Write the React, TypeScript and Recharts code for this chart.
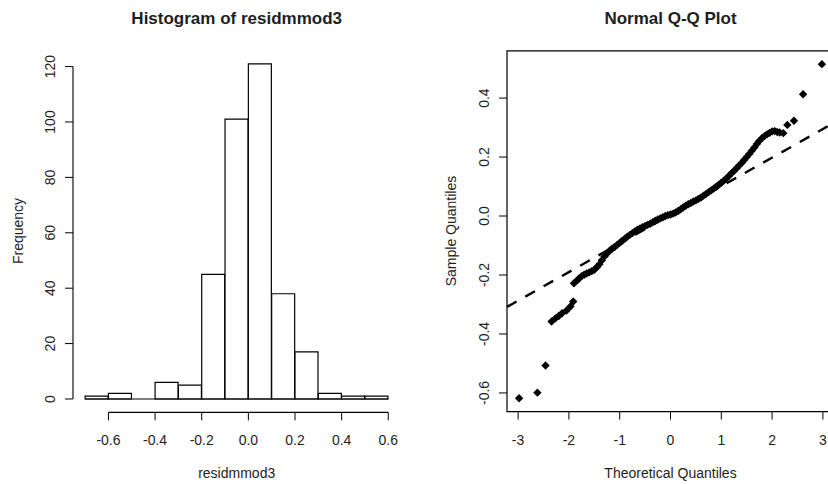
import React from 'react';
import {
  ComposedChart,
  Bar,
  Scatter,
  XAxis,
  YAxis,
  ReferenceLine,
  ReferenceArea,
} from 'recharts';

// ---- histogram data ----
const HIST_EDGES = [-0.7, -0.6, -0.5, -0.4, -0.3, -0.2, -0.1, 0.0, 0.1, 0.2, 0.3, 0.4, 0.5, 0.6];
const HIST_COUNTS = [1, 2, 0, 6, 5, 45, 101, 121, 38, 17, 2, 1, 1];
const HIST_X_TICKS = [-0.6, -0.4, -0.2, 0.0, 0.2, 0.4, 0.6];
const HIST_X_LABELS = ['-0.6', '-0.4', '-0.2', '0.0', '0.2', '0.4', '0.6'];
const HIST_Y_TICKS = [0, 20, 40, 60, 80, 100, 120];

// ---- normal Q-Q data ----
const QQ_THEORETICAL = [
  -2.98, -2.62, -2.46, -2.34, -2.265, -2.2, -2.135, -2.05, -1.97, -1.915,
  -1.9, -1.85, -1.8, -1.75, -1.7, -1.65, -1.6, -1.55, -1.5, -1.45,
  -1.4, -1.35, -1.3, -1.25, -1.2, -1.15, -1.1, -1.05, -1.0, -0.95,
  -0.9, -0.85, -0.8, -0.75, -0.7, -0.65, -0.6, -0.55, -0.5, -0.45,
  -0.4, -0.35, -0.3, -0.25, -0.2, -0.15, -0.1, -0.05, 0.0, 0.05,
  0.1, 0.15, 0.2, 0.25, 0.3, 0.35, 0.4, 0.45, 0.5, 0.55,
  0.6, 0.65, 0.7, 0.75, 0.8, 0.85, 0.9, 0.95, 1.0, 1.05,
  1.1, 1.15, 1.2, 1.25, 1.3, 1.35, 1.4, 1.45, 1.5, 1.55,
  1.6, 1.65, 1.7, 1.75, 1.8, 1.85, 1.9, 1.95, 2.0, 2.05,
  2.1, 2.15, 2.22, 2.3, 2.43, 2.61, 2.98,
];
const QQ_SAMPLE = [
  -0.618, -0.599, -0.507, -0.358, -0.347, -0.339, -0.33, -0.321, -0.307, -0.29,
  -0.228, -0.22, -0.212, -0.204, -0.199, -0.195, -0.191, -0.187, -0.182, -0.174,
  -0.164, -0.15, -0.137, -0.127, -0.118, -0.111, -0.105, -0.098, -0.091, -0.084,
  -0.077, -0.07, -0.064, -0.058, -0.052, -0.046, -0.042, -0.038, -0.034, -0.03,
  -0.026, -0.021, -0.016, -0.012, -0.008, -0.004, 0.0, 0.003, 0.005, 0.008,
  0.012, 0.017, 0.023, 0.029, 0.035, 0.04, 0.044, 0.049, 0.053, 0.058,
  0.063, 0.069, 0.075, 0.081, 0.087, 0.093, 0.099, 0.106, 0.113, 0.12,
  0.127, 0.136, 0.145, 0.153, 0.162, 0.171, 0.18, 0.19, 0.2, 0.21,
  0.221, 0.232, 0.244, 0.255, 0.264, 0.271, 0.277, 0.282, 0.287, 0.288,
  0.285, 0.283, 0.281, 0.309, 0.323, 0.413, 0.515,
];
const QQ_X_TICKS = [-3, -2, -1, 0, 1, 2, 3];
const QQ_Y_TICKS = [-0.6, -0.4, -0.2, 0.0, 0.2, 0.4];
const QQ_Y_LABELS = ['-0.6', '-0.4', '-0.2', '0.0', '0.2', '0.4'];
const QQ_LINE_INTERCEPT = 0.004;
const QQ_LINE_SLOPE = 0.097;

const FONT = '"Liberation Sans", Arial, sans-serif';
const INK = '#1e1e1e';

// R style axis range: data range padded by 4% on each side
const padRange = (lo: number, hi: number): [number, number] => {
  const d = (hi - lo) * 0.04;
  return [lo - d, hi + d];
};

const histData = HIST_COUNTS.map((count, i) => ({
  mid: (HIST_EDGES[i] + HIST_EDGES[i + 1]) / 2,
  count,
}));
const histX = padRange(HIST_EDGES[0], HIST_EDGES[HIST_EDGES.length - 1]);
const histY = padRange(0, Math.max(...HIST_COUNTS));

const qqData = QQ_THEORETICAL.map((x, i) => ({ x, y: QQ_SAMPLE[i] }));
const qqX = padRange(Math.min(...QQ_THEORETICAL), Math.max(...QQ_THEORETICAL));
const qqY = padRange(Math.min(...QQ_SAMPLE), Math.max(...QQ_SAMPLE));

const makeXTick = (labels: string[], ticks: number[]) => (props: any) => {
  const { x, y, payload } = props;
  const idx = ticks.findIndex((t) => Math.abs(t - payload.value) < 1e-9);
  const text = idx >= 0 ? labels[idx] : String(payload.value);
  return (
    <text x={x} y={y + 18} textAnchor="middle" dominantBaseline="central"
      fontSize={14} fontFamily={FONT} fill={INK}>
      {text}
    </text>
  );
};

const makeYTick = (labels: string[], ticks: number[]) => (props: any) => {
  const { x, y, payload } = props;
  const idx = ticks.findIndex((t) => Math.abs(t - payload.value) < 1e-9);
  const text = idx >= 0 ? labels[idx] : String(payload.value);
  const tx = x - 13;
  return (
    <text x={tx} y={y} textAnchor="middle" dominantBaseline="central"
      transform={`rotate(-90, ${tx}, ${y})`}
      fontSize={14} fontFamily={FONT} fill={INK}>
      {text}
    </text>
  );
};

// filled diamond, like R's pch = 18
const Diamond = (props: any) => {
  const { cx, cy } = props;
  const r = 4.2;
  return (
    <polygon
      points={`${cx},${cy - r} ${cx + r},${cy} ${cx},${cy + r} ${cx - r},${cy}`}
      fill="#000"
    />
  );
};

const titleStyle: React.CSSProperties = {
  position: 'absolute',
  fontFamily: FONT,
  fontWeight: 'bold',
  fontSize: 17,
  color: INK,
  whiteSpace: 'nowrap',
  transform: 'translate(-50%, -50%)',
};

const axisTitleStyle: React.CSSProperties = {
  position: 'absolute',
  fontFamily: FONT,
  fontSize: 14,
  color: INK,
  whiteSpace: 'nowrap',
  lineHeight: '14px',
};

export default function App() {
  const qqLineSeg = [
    { x: qqX[0], y: QQ_LINE_INTERCEPT + QQ_LINE_SLOPE * qqX[0] },
    { x: qqX[1], y: QQ_LINE_INTERCEPT + QQ_LINE_SLOPE * qqX[1] },
  ];

  return (
    <div style={{ position: 'absolute', left: 0, top: 0, width: 828, height: 484,
      overflow: 'hidden', background: '#fff' }}>
      {/* Histogram */}
      <div style={{ position: 'absolute', left: 0, top: 0 }}>
        <ComposedChart width={420} height={484} data={histData}
          margin={{ top: 50.4, right: 19.6, left: 43, bottom: 31.6 }}
          barCategoryGap={0} barGap={0}>
          <XAxis dataKey="mid" type="number" domain={histX} ticks={HIST_X_TICKS}
            allowDataOverflow axisLine={false} tickSize={8} height={40}
            tickLine={{ stroke: '#000' }} interval={0}
            tick={makeXTick(HIST_X_LABELS, HIST_X_TICKS)} />
          <YAxis type="number" domain={histY} ticks={HIST_Y_TICKS} allowDataOverflow
            axisLine={false} tickSize={8} width={30} tickLine={{ stroke: '#000' }}
            interval={0} tick={makeYTick(HIST_Y_TICKS.map(String), HIST_Y_TICKS)} />
          <Bar dataKey="count" fill="#fff" stroke="#000" strokeWidth={1.2}
            isAnimationActive={false} />
          <ReferenceLine ifOverflow="visible" stroke="#000" strokeWidth={1.2}
            segment={[{ x: HIST_EDGES[0], y: 0 }, { x: HIST_EDGES[HIST_EDGES.length - 1], y: 0 }]} />
          <ReferenceLine ifOverflow="visible" stroke="#000" strokeWidth={1.1}
            segment={[{ x: histX[0], y: HIST_Y_TICKS[0] }, { x: histX[0], y: HIST_Y_TICKS[HIST_Y_TICKS.length - 1] }]} />
          <ReferenceLine ifOverflow="visible" stroke="#000" strokeWidth={1.1}
            segment={[{ x: HIST_X_TICKS[0], y: histY[0] }, { x: HIST_X_TICKS[HIST_X_TICKS.length - 1], y: histY[0] }]} />
        </ComposedChart>
      </div>
      <div style={{ ...titleStyle, left: 236.7, top: 19 }}>Histogram of residmmod3</div>
      <div style={{ ...axisTitleStyle, left: 236.7, top: 473, transform: 'translate(-50%, -50%)' }}>residmmod3</div>
      <div style={{ ...axisTitleStyle, left: 18, top: 231, transform: 'translate(-50%, -50%) rotate(-90deg)' }}>Frequency</div>

      {/* Normal Q-Q plot */}
      <div style={{ position: 'absolute', left: 430, top: 0 }}>
        <ComposedChart width={424} height={484}
          margin={{ top: 50.8, right: 20, left: 47, bottom: 32.4 }}>
          <XAxis dataKey="x" type="number" domain={qqX} ticks={QQ_X_TICKS}
            allowDataOverflow axisLine={false} tickSize={8} height={40}
            tickLine={{ stroke: '#000' }} interval={0}
            tick={makeXTick(QQ_X_TICKS.map(String), QQ_X_TICKS)} />
          <YAxis dataKey="y" type="number" domain={qqY} ticks={QQ_Y_TICKS} allowDataOverflow
            axisLine={false} tickSize={8} width={30} tickLine={{ stroke: '#000' }}
            interval={0} tick={makeYTick(QQ_Y_LABELS, QQ_Y_TICKS)} />
          <ReferenceArea x1={qqX[0]} x2={qqX[1]} y1={qqY[0]} y2={qqY[1]}
            fill="none" fillOpacity={0} stroke="#000" strokeWidth={1.2} ifOverflow="visible" />
          <ReferenceLine segment={qqLineSeg} stroke="#000" strokeWidth={2.4}
            strokeDasharray="11 10" ifOverflow="visible" />
          <Scatter data={qqData} shape={<Diamond />} isAnimationActive={false} />
        </ComposedChart>
      </div>
      <div style={{ ...titleStyle, left: 670.5, top: 19 }}>Normal Q-Q Plot</div>
      <div style={{ ...axisTitleStyle, left: 670.5, top: 473, transform: 'translate(-50%, -50%)' }}>Theoretical Quantiles</div>
      <div style={{ ...axisTitleStyle, left: 451, top: 231, transform: 'translate(-50%, -50%) rotate(-90deg)' }}>Sample Quantiles</div>
    </div>
  );
}
